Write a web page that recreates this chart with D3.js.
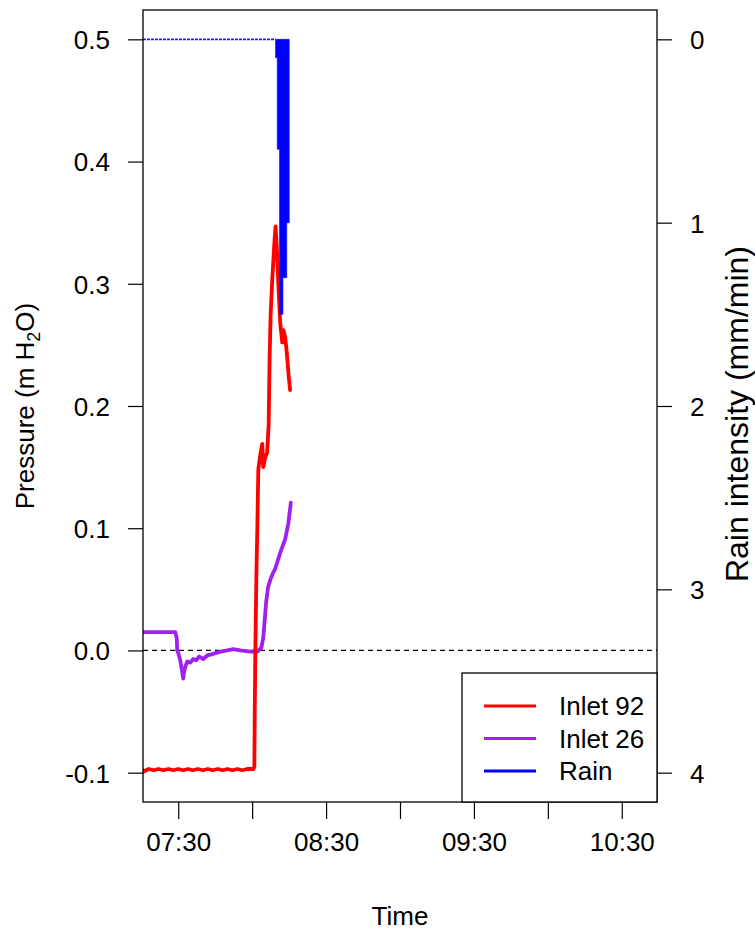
<!DOCTYPE html>
<html><head><meta charset="utf-8">
<script src="https://cdn.jsdelivr.net/npm/d3@7"></script>
<style>body{margin:0;background:#fff}svg{display:block}text{font-family:"Liberation Sans",Arial,sans-serif;fill:#000}</style>
</head><body><svg id="c" width="755" height="931"></svg>
<script>
// ---- data ----
const inlet92Time = ["07:15:42","07:16:00","07:18:00","07:20:00","07:22:00","07:24:00","07:26:00","07:28:00","07:30:00","07:32:00","07:34:00","07:36:00","07:38:00","07:40:00","07:42:00","07:44:00","07:46:00","07:48:00","07:50:00","07:52:00","07:54:00","07:56:00","07:58:00","08:00:30","08:00:54","08:01:03","08:01:18","08:01:42","08:02:06","08:02:30","08:03:18","08:04:06","08:04:30","08:05:18","08:06:06","08:06:42","08:07:06","08:07:30","08:08:12","08:09:00","08:09:30","08:10:00","08:10:36","08:11:24","08:11:48","08:12:12","08:12:42","08:13:24","08:14:00","08:14:24","08:14:48","08:15:24"];
const inlet92Value = [-0.098,-0.099,-0.097,-0.098,-0.097,-0.098,-0.097,-0.098,-0.097,-0.098,-0.097,-0.098,-0.097,-0.098,-0.097,-0.098,-0.097,-0.098,-0.097,-0.098,-0.097,-0.098,-0.097,-0.097,-0.095,-0.05,0.0,0.06,0.10,0.148,0.160,0.169,0.150,0.158,0.162,0.185,0.240,0.275,0.305,0.333,0.347,0.330,0.300,0.268,0.260,0.252,0.262,0.256,0.245,0.235,0.225,0.213];
const inlet26Time = ["07:15:42","07:28:48","07:29:24","07:29:36","07:30:00","07:30:48","07:31:24","07:32:00","07:32:24","07:33:06","07:33:42","07:34:54","07:36:06","07:37:18","07:38:30","07:40:12","07:41:48","07:43:48","07:47:06","07:49:54","07:52:18","07:55:12","07:59:12","08:02:06","08:03:42","08:04:30","08:05:06","08:05:42","08:06:30","08:07:24","08:08:24","08:09:24","08:11:24","08:13:24","08:14:42","08:15:42"];
const inlet26Value = [0.015,0.015,0.010,0.000,-0.002,-0.008,-0.015,-0.023,-0.017,-0.012,-0.009,-0.010,-0.007,-0.008,-0.005,-0.007,-0.004,-0.003,-0.001,0.000,0.001,0.000,-0.001,-0.001,0.002,0.010,0.025,0.040,0.052,0.058,0.063,0.067,0.080,0.091,0.104,0.121];
const rainStart = ["08:09:30","08:10:11","08:11:07","08:12:29","08:14:02"];
const rainEnd   = ["08:10:11","08:11:07","08:12:29","08:14:02","08:15:03"];
const rainValue = [0.1,0.6,1.5,1.3,1.0];
const rainZeroFrom = "07:15:42", rainZeroTo = "08:09:30";
const leftTicks = [-0.1,0.0,0.1,0.2,0.3,0.4,0.5];
const rightTicks = [0,1,2,3,4];
const timeTicks = ["07:30","08:00","08:30","09:00","09:30","10:00","10:30"];
const timeLabels = ["07:30","","08:30","","09:30","","10:30"];
const seriesNames = ["Inlet 92","Inlet 26","Rain"];
const seriesColors = ["#FF0000","#A020F0","#0000FF"];

// ---- layout ----
const L=143,R=657,T=10,B=802;
const p = d3.timeParse("%H:%M:%S"), pm = d3.timeParse("%H:%M");
const x = d3.scaleTime().domain([p("07:15:42"),p("10:44:18")]).range([L,R]);
const y = d3.scaleLinear().domain([-0.124,0.524]).range([B,T]);
const y2 = d3.scaleLinear().domain([-0.16,4.16]).range([T,B]);
const svg = d3.select("#c");
const FS = 26;
const FF = '"Liberation Sans",Arial,sans-serif';

svg.append("clipPath").attr("id","clip").append("rect").attr("x",L).attr("y",T).attr("width",R-L).attr("height",B-T);
const g = svg.append("g").attr("clip-path","url(#clip)");

// zero line
g.append("line").attr("x1",L).attr("x2",R).attr("y1",y(0)).attr("y2",y(0))
 .attr("stroke","#000").attr("stroke-width",1.2).attr("stroke-dasharray","5,4");

// pressure lines
const line = d3.line().x(d=>x(d[0])).y(d=>y(d[1]));
g.append("path").datum(inlet26Time.map((t,i)=>[p(t),inlet26Value[i]])).attr("d",line)
 .attr("fill","none").attr("stroke",seriesColors[1]).attr("stroke-width",3.8).attr("stroke-linejoin","round").attr("stroke-linecap","round");
g.append("path").datum(inlet92Time.map((t,i)=>[p(t),inlet92Value[i]])).attr("d",line)
 .attr("fill","none").attr("stroke",seriesColors[0]).attr("stroke-width",3.8).attr("stroke-linejoin","round").attr("stroke-linecap","round");

// rain (on top)
g.append("line").attr("x1",x(p(rainZeroFrom))).attr("x2",x(p(rainZeroTo))).attr("y1",y2(0)).attr("y2",y2(0))
 .attr("stroke",seriesColors[2]).attr("stroke-width",1.6).attr("stroke-dasharray","3,1").attr("opacity",0.9);
const rainPts = [];
rainValue.forEach((v,i)=>{ rainPts.push([p(rainStart[i]),v]); rainPts.push([p(rainEnd[i]),v]); });
const rainArea = d3.area().x(d=>x(d[0])).y0(y2(0)).y1(d=>y2(d[1]));
g.append("path").datum(rainPts).attr("d",rainArea).attr("fill",seriesColors[2]).attr("stroke",seriesColors[2]).attr("stroke-width",0.6);

// box
svg.append("rect").attr("x",L).attr("y",T).attr("width",R-L).attr("height",B-T).attr("fill","none").attr("stroke","#000").attr("stroke-width",1.3);

// left axis
const la = svg.append("g").attr("transform",`translate(${L},0)`)
 .call(d3.axisLeft(y).tickValues(leftTicks).tickSize(15).tickFormat(d=>d.toFixed(1)));
la.select(".domain").remove();
la.selectAll("line").attr("stroke","#000").attr("stroke-width",1.2);
la.selectAll("text").attr("font-size",FS).attr("x",-33).attr("dy","0.36em").style("font-family",FF);

// right axis
const ra = svg.append("g").attr("transform",`translate(${R},0)`)
 .call(d3.axisRight(y2).tickValues(rightTicks).tickSize(15).tickFormat(d=>String(d)));
ra.select(".domain").remove();
ra.selectAll("line").attr("stroke","#000").attr("stroke-width",1.2);
ra.selectAll("text").attr("font-size",FS).attr("x",33).attr("dy","0.36em").style("font-family",FF);

// bottom axis
const ba = svg.append("g").attr("transform",`translate(0,${B})`)
 .call(d3.axisBottom(x).tickValues(timeTicks.map(pm)).tickSize(17).tickFormat((d,i)=>timeLabels[i]));
ba.select(".domain").remove();
ba.selectAll("line").attr("stroke","#000").attr("stroke-width",1.2);
ba.selectAll("text").attr("font-size",FS).attr("y",31).attr("dy","0.71em").style("font-family",FF);

// titles
svg.append("text").attr("x",(L+R)/2).attr("y",925).attr("text-anchor","middle").attr("font-size",FS).text("Time");
const yt = svg.append("text").attr("transform",`translate(34,${(T+B)/2}) rotate(-90)`).attr("text-anchor","middle").attr("font-size",FS);
yt.append("tspan").text("Pressure (m H");
yt.append("tspan").attr("font-size",18).attr("dy",6).text("2");
yt.append("tspan").attr("dy",-6).text("O)");
svg.append("text").attr("transform",`translate(748,414) rotate(-90)`).attr("text-anchor","middle").attr("font-size",32).text("Rain intensity (mm/min)");

// legend
const lg = svg.append("g");
lg.append("rect").attr("x",462).attr("y",673).attr("width",R-462).attr("height",B-673).attr("fill","#fff").attr("stroke","#000").attr("stroke-width",1.3);
seriesNames.forEach((n,i)=>{
  const yy = 706 + i*32.5;
  lg.append("line").attr("x1",484).attr("x2",536).attr("y1",yy).attr("y2",yy).attr("stroke",seriesColors[i]).attr("stroke-width",3);
  lg.append("text").attr("x",559).attr("y",yy).attr("dy","0.36em").attr("font-size",FS).text(n);
});
</script></body></html>
